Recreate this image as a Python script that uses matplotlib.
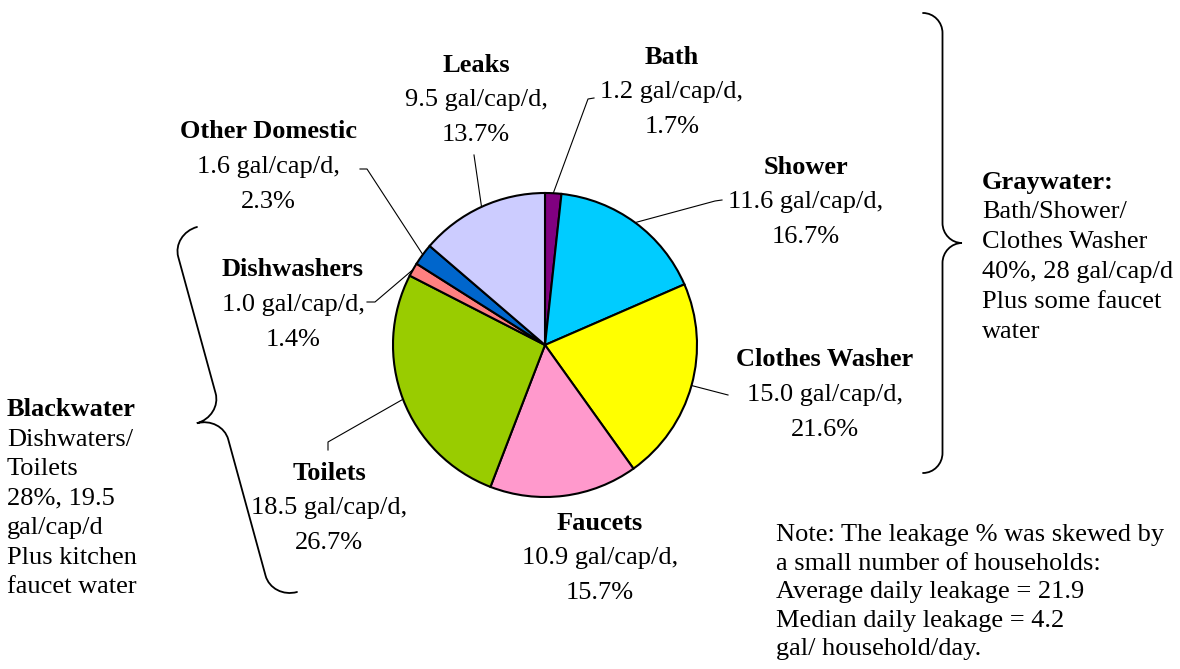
#!/usr/bin/env python3
import numpy as np
import matplotlib
matplotlib.use('Agg')
import matplotlib.pyplot as plt
from matplotlib.path import Path
from matplotlib.patches import PathPatch

# household water use, gal/cap/d, pie runs clockwise from 12 o'clock
categories = ['Bath', 'Shower', 'Clothes Washer', 'Faucets', 'Toilets',
              'Dishwashers', 'Other Domestic', 'Leaks']
gal_cap_d = [1.2, 11.6, 15.0, 10.9, 18.5, 1.0, 1.6, 9.5]
percents = [1.7, 16.7, 21.6, 15.7, 26.7, 1.4, 2.3, 13.7]
colors = ['#800080', '#00CCFF', '#FFFF00', '#FF99CC', '#99CC00',
          '#FF8080', '#0066CC', '#CCCCFF']

graywater_lines = ['Graywater:', 'Bath/Shower/', 'Clothes Washer',
                   '40%, 28 gal/cap/d', 'Plus some faucet', 'water']
blackwater_lines = ['Blackwater', 'Dishwaters/', 'Toilets', '28%, 19.5',
                    'gal/cap/d', 'Plus kitchen', 'faucet water']
note_lines = ['Note: The leakage % was skewed by',
              'a small number of households:',
              'Average daily leakage = 21.9',
              'Median daily leakage = 4.2',
              'gal/ household/day.']

plt.rcParams['font.family'] = ['Liberation Serif', 'DejaVu Serif']
FS = 19

# label block centres (pixels) and leader line points on the label side
label_xy = {
    'Bath': (672, 57), 'Shower': (806, 167), 'Clothes Washer': (825, 360),
    'Faucets': (600, 523), 'Toilets': (329, 473), 'Dishwashers': (293, 270),
    'Other Domestic': (268, 132), 'Leaks': (476, 65),
}
leaders = {
    'Bath': [(594, 98), (588, 99)],
    'Shower': [(722, 200), (715, 201)],
    'Clothes Washer': [(728, 395)],
    'Toilets': [(328, 450), (328, 442)],
    'Dishwashers': [(367, 302), (375, 302)],
    'Other Domestic': [(360, 169), (367, 169)],
    'Leaks': [(474, 155)],
}
CX, CY, R = 545, 345, 152


def brace(ax, p0, p1, depth, curl, lw=1.3):
    p0 = np.array(p0, float)
    p1 = np.array(p1, float)
    d = p1 - p0
    L = np.hypot(*d)
    u = d / L
    n = np.array([u[1], -u[0]])
    h = depth / 2.0
    r = curl
    m = L / 2.0
    loc = [(0, 0), (0, 0.55 * h), (0.45 * r, h), (r, h),
           (m - r, h),
           (m - 0.45 * r, h), (m, 1.45 * h), (m, 2 * h),
           (m, 1.45 * h), (m + 0.45 * r, h), (m + r, h),
           (L - r, h),
           (L - 0.45 * r, h), (L, 0.55 * h), (L, 0)]
    verts = [p0 + s * u + w * n for s, w in loc]
    codes = ([Path.MOVETO] + [Path.CURVE4] * 3 + [Path.LINETO]
             + [Path.CURVE4] * 6 + [Path.LINETO] + [Path.CURVE4] * 3)
    ax.add_patch(PathPatch(Path(verts, codes), fill=False, lw=lw,
                           ec='black', capstyle='round'))


fig = plt.figure(figsize=(11.8, 6.69), dpi=100)
ax = fig.add_axes([0, 0, 1, 1])

wedges, _ = ax.pie(gal_cap_d, colors=colors, startangle=-90, counterclock=True,
                   center=(CX, CY), radius=R,
                   wedgeprops=dict(edgecolor='black', linewidth=1.5))
ax.set_xlim(0, 1180)
ax.set_ylim(669, 0)
ax.set_aspect('equal')
ax.axis('off')

for name, w, g, p in zip(categories, wedges, gal_cap_d, percents):
    x, y = label_xy[name]
    lines = [(name, 'bold'), (f'{g:.1f} gal/cap/d,', 'normal'), (f'{p:.1f}%', 'normal')]
    for i, (txt, wt) in enumerate(lines):
        ax.text(x, y + 35 * i, txt, ha='center', va='center', fontsize=FS,
                fontweight=wt)
    if name in leaders:
        a = np.deg2rad((w.theta1 + w.theta2) / 2)
        edge = (CX + R * np.cos(a), CY + R * np.sin(a))
        pts = leaders[name] + [edge]
        ax.plot([q[0] for q in pts], [q[1] for q in pts], color='black', lw=0.8)

for i, txt in enumerate(graywater_lines):
    ax.text(982, 182 + 30 * i, txt, ha='left', va='center', fontsize=FS,
            fontweight='bold' if i == 0 else 'normal')
for i, txt in enumerate(blackwater_lines):
    ax.text(7, 410 + 29.5 * i, txt, ha='left', va='center', fontsize=FS,
            fontweight='bold' if i == 0 else 'normal')
for i, txt in enumerate(note_lines):
    ax.text(776, 535 + 28.5 * i, txt, ha='left', va='center', fontsize=FS)

brace(ax, (923, 13), (923, 473), depth=39, curl=20)
brace(ax, (297, 592), (197, 227), depth=52, curl=24)

fig.savefig('out.png', dpi=100)
